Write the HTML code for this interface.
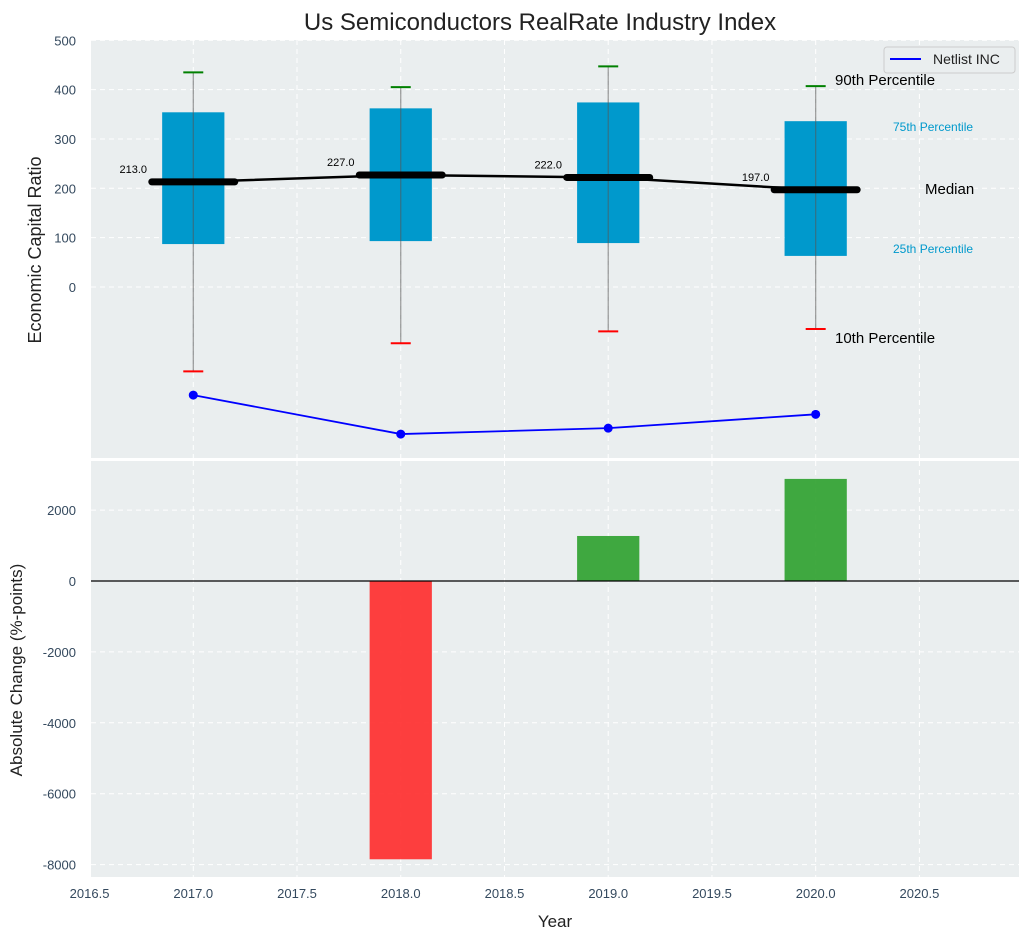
<!DOCTYPE html>
<html><head><meta charset="utf-8"><style>
body{margin:0;background:#fff;font-family:"Liberation Sans",sans-serif}
svg text{font-family:"Liberation Sans",sans-serif}
</style></head><body>
<svg id="chart" width="1029" height="940" xmlns="http://www.w3.org/2000/svg">
<text x="540" y="30" text-anchor="middle" font-size="24" fill="#222">Us Semiconductors RealRate Industry Index</text>
<g id="topPanel"></g>
<g id="botPanel"></g>
</svg>
<script>
const years=[2017,2018,2019,2020];
const p10=[-171,-114,-90,-85];
const p25=[87,93,89,63];
const medians=[213,227,222,197];
const p75=[354,362,374,336];
const p90=[435,405,447,407];
const netlist=[-219,-298,-286,-258];
const changes=[0,-7850,1270,2880];
const yTicksTop=[0,100,200,300,400,500];
const yTicksBot=[-8000,-6000,-4000,-2000,0,2000];
const xTicks=[2016.5,2017,2017.5,2018,2018.5,2019,2019.5,2020,2020.5];

const NS="http://www.w3.org/2000/svg";
const L=91,R=1019;
const x=v=>L+(v-2016.507)*(R-L)/(2020.98-2016.507);
const T0=40,T1=458,yT=v=>287-v*0.4935;
const B0=461,B1=877,yB=v=>581-v*0.03545;
function mk(p,tag,a,txt){const e=document.createElementNS(NS,tag);for(const k in a)e.setAttribute(k,a[k]);if(txt!==undefined)e.textContent=txt;p.appendChild(e);return e;}
const topG=document.getElementById('topPanel'),botG=document.getElementById('botPanel');
let e;

e=mk(topG,'rect',{x:L,y:T0,width:R-L,height:T1-T0,fill:'#eaeeef'});


e=mk(botG,'rect',{x:L,y:B0,width:R-L,height:B1-B0,fill:'#eaeeef'});



xTicks.forEach(t=>{
 mk(topG,'line',{x1:x(t),x2:x(t),y1:T0,y2:T1,stroke:'#fff','stroke-dasharray':'5,4','stroke-width':1});
 mk(botG,'line',{x1:x(t),x2:x(t),y1:B0,y2:B1,stroke:'#fff','stroke-dasharray':'5,4','stroke-width':1});
 e=mk(botG,'text',{x:x(t),y:B1+21,'text-anchor':'middle','font-size':13,fill:'#34495e'},t.toFixed(1));
 
 
});
yTicksTop.forEach(t=>{
 mk(topG,'line',{x1:L,x2:R,y1:yT(t),y2:yT(t),stroke:'#fff','stroke-dasharray':'5,4','stroke-width':1});
 e=mk(topG,'text',{x:76,y:yT(t)+5,'text-anchor':'end','font-size':13,fill:'#34495e'},t);
 
 
});
yTicksBot.forEach(t=>{
 mk(botG,'line',{x1:L,x2:R,y1:yB(t),y2:yB(t),stroke:'#fff','stroke-dasharray':'5,4','stroke-width':1});
 e=mk(botG,'text',{x:76,y:yB(t)+5,'text-anchor':'end','font-size':13,fill:'#34495e'},t);
 
 
});

const bw=x(2017.15)-x(2017);
years.forEach((yr,i)=>{
 const cx=x(yr);
 e=mk(topG,'rect',{x:cx-bw,y:yT(p75[i]),width:2*bw,height:yT(p25[i])-yT(p75[i]),fill:'#0099cc'});
 
 
 mk(topG,'line',{x1:cx,x2:cx,y1:yT(p90[i]),y2:yT(p10[i]),stroke:'#555','stroke-opacity':0.6,'stroke-width':1.2});
 e=mk(topG,'line',{x1:cx-10,x2:cx+10,y1:yT(p90[i]),y2:yT(p90[i]),stroke:'green','stroke-width':2});
 
 
 e=mk(topG,'line',{x1:cx-10,x2:cx+10,y1:yT(p10[i]),y2:yT(p10[i]),stroke:'red','stroke-width':2});
 
 
});
e=mk(topG,'polyline',{points:years.map((yr,i)=>x(yr)+','+yT(medians[i])).join(' '),fill:'none',stroke:'#000','stroke-width':2.5});


const mw=x(2017.2)-x(2017);
years.forEach((yr,i)=>{
 const cx=x(yr),cy=yT(medians[i]);
 e=mk(topG,'line',{x1:cx-mw,x2:cx+mw,y1:cy,y2:cy,stroke:'#000','stroke-width':7,'stroke-linecap':'round'});
 
 
 e=mk(topG,'text',{x:cx-60,y:cy-9,'text-anchor':'middle','font-size':11,fill:'#000'},medians[i].toFixed(1));
 
 
});
e=mk(topG,'polyline',{points:years.map((yr,i)=>x(yr)+','+yT(netlist[i])).join(' '),fill:'none',stroke:'blue','stroke-width':1.8});


years.forEach((yr,i)=>{
 e=mk(topG,'circle',{cx:x(yr),cy:yT(netlist[i]),r:4.5,fill:'blue'});
 
 
});
const ann=[[835,85,'90th Percentile',15,'#000'],[893,131,'75th Percentile',12,'#0099cc'],[925,194,'Median',15,'#000'],[893,253,'25th Percentile',12,'#0099cc'],[835,343,'10th Percentile',15,'#000']];
ann.forEach(a=>{
 e=mk(topG,'text',{x:a[0],y:a[1],'font-size':a[3],fill:a[4]},a[2]);
 
 
});
e=mk(topG,'g',{});


mk(e,'rect',{x:884,y:47,width:131,height:26,rx:3,fill:'#eaeeef',stroke:'#ccc'});
mk(e,'line',{x1:890,x2:921,y1:59,y2:59,stroke:'blue','stroke-width':2});
mk(e,'text',{x:933,y:64,'font-size':14,fill:'#222'},'Netlist INC');

const hw=x(2017.15)-x(2017);
years.forEach((yr,i)=>{
 const v=changes[i];if(v===0)return;
 const y1=yB(Math.max(v,0)),y2=yB(Math.min(v,0));
 e=mk(botG,'rect',{x:x(yr)-hw,y:y1,width:2*hw,height:y2-y1,fill:v<0?'#ff2a2a':'#2ca02c','fill-opacity':0.9});
 
 
});
mk(botG,'line',{x1:L,x2:R,y1:yB(0),y2:yB(0),stroke:'#000','stroke-width':1.2});

e=mk(topG,'text',{x:41,y:250,'text-anchor':'middle','font-size':18,fill:'#222',transform:'rotate(-90 41 250)'},'Economic Capital Ratio');


e=mk(botG,'text',{x:22,y:670,'text-anchor':'middle','font-size':17,fill:'#222',transform:'rotate(-90 22 670)'},'Absolute Change (%-points)');


e=mk(botG,'text',{x:555,y:927,'text-anchor':'middle','font-size':17,fill:'#222'},'Year');


</script>
</body></html>
